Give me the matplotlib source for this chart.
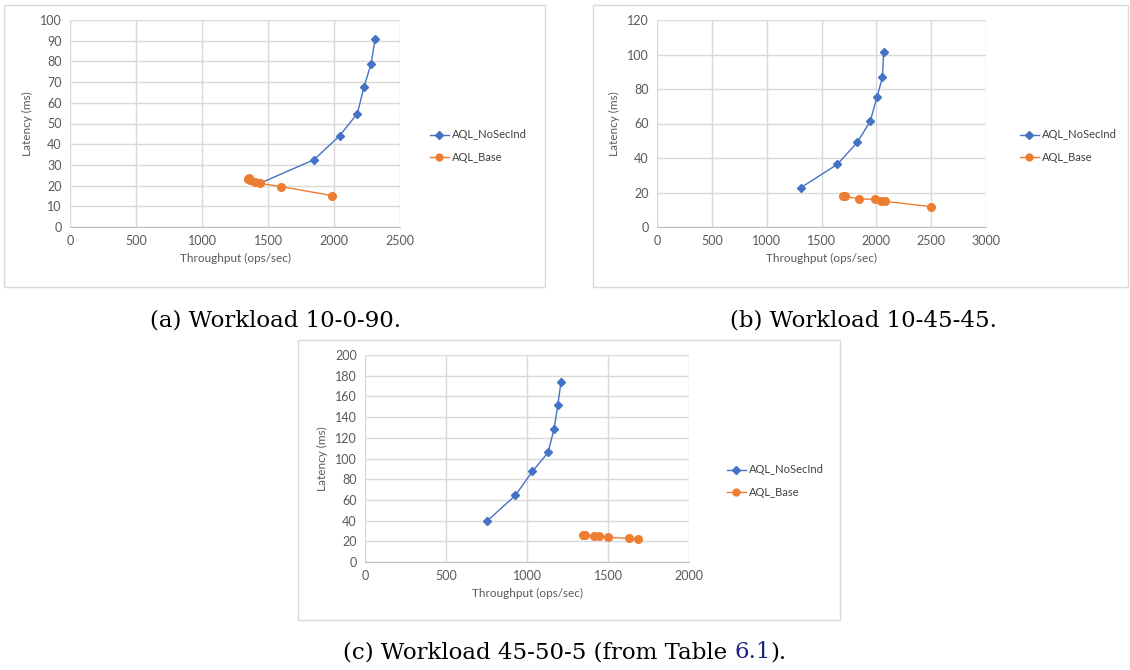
import matplotlib
matplotlib.use("Agg")
import matplotlib.pyplot as plt
from matplotlib.patches import Rectangle

# ---------------- data ----------------
series_names = ["AQL_NoSecInd", "AQL_Base"]

a_nosec_x = [2311, 2281, 2226, 2177, 2043, 1848, 1438]
a_nosec_y = [90.7, 78.9, 67.4, 54.8, 44.1, 32.5, 21.1]
a_base_x = [1349, 1356, 1362, 1402, 1437, 1599, 1982]
a_base_y = [23.0, 23.7, 22.5, 21.8, 21.1, 19.5, 15.2]

b_nosec_x = [2066, 2056, 2005, 1945, 1826, 1644, 1311]
b_nosec_y = [101.3, 86.8, 75.2, 61.4, 49.0, 36.3, 22.8]
b_base_x = [1692, 1715, 1839, 1986, 2047, 2079, 2495]
b_base_y = [17.9, 17.7, 16.4, 16.0, 15.0, 14.9, 11.8]

c_nosec_x = [1210, 1190, 1167, 1130, 1033, 928, 756]
c_nosec_y = [174.0, 151.4, 128.6, 105.8, 87.5, 64.3, 39.9]
c_base_x = [1348, 1358, 1414, 1442, 1501, 1628, 1688]
c_base_y = [26.0, 26.0, 25.1, 24.8, 23.8, 22.8, 22.5]

x_label = "Throughput (ops/sec)"
y_label = "Latency (ms)"

captions = ["(a) Workload 10-0-90.", "(b) Workload 10-45-45."]

# ---------------- style ----------------
W, H = 1130, 670
BLUE = "#4472C4"
ORANGE = "#ED7D31"
GRID = "#d9d9d9"
TXT = "#595959"
FONT = ["Lato", "DejaVu Sans"]
SERIF = ["DejaVu Serif"]

plt.rcParams["font.family"] = FONT

fig = plt.figure(figsize=(W / 100, H / 100), dpi=100)


def rect(x0, y0, x1, y1):
    return [x0 / W, 1 - y1 / H, (x1 - x0) / W, (y1 - y0) / H]


def box(x0, y0, x1, y1):
    fig.patches.append(Rectangle((x0 / W, 1 - y1 / H), (x1 - x0) / W, (y1 - y0) / H,
                                 transform=fig.transFigure, fill=False,
                                 edgecolor=GRID, linewidth=1.0))


def panel(area, xs1, ys1, xs2, ys2, xmax, xstep, ymax, ystep, leg_xy):
    ax = fig.add_axes(rect(*area))
    l1, = ax.plot(xs1, ys1, color=BLUE, marker="D", markersize=4, linewidth=1.0,
                  label=series_names[0])
    l2, = ax.plot(xs2, ys2, color=ORANGE, marker="o", markersize=5.5, linewidth=1.0,
                  label=series_names[1])
    ax.set_xlim(0, xmax)
    ax.set_ylim(0, ymax)
    ax.set_xticks(range(0, xmax + 1, xstep))
    ax.set_yticks(range(0, ymax + 1, ystep))
    ax.grid(True, color=GRID, linewidth=1.0)
    ax.set_axisbelow(True)
    for s in ["top", "right"]:
        ax.spines[s].set_visible(False)
    ax.spines["left"].set_visible(False)
    ax.spines["bottom"].set_color("#bfbfbf")
    ax.tick_params(length=0, labelsize=9, colors=TXT, pad=6)
    ax.set_xlabel(x_label, fontsize=8.5, color=TXT, labelpad=4)
    ax.set_ylabel(y_label, fontsize=8.5, color=TXT, labelpad=5)
    fig.legend(handles=[l1, l2], loc="center left",
               bbox_to_anchor=(leg_xy[0] / W, 1 - leg_xy[1] / H),
               frameon=False, fontsize=8, labelcolor="#404040",
               handlelength=1.7, handletextpad=0.25, labelspacing=1.0,
               borderaxespad=0, borderpad=0, markerscale=0.9)
    return ax


# panel boxes
box(4, 5, 545, 287)
box(593, 5, 1128, 287)
box(298, 340, 840, 620)

panel((70, 20, 400, 227), a_nosec_x, a_nosec_y, a_base_x, a_base_y,
      2500, 500, 100, 10, (430, 146))
panel((657, 20, 986, 227), b_nosec_x, b_nosec_y, b_base_x, b_base_y,
      3000, 500, 120, 20, (1020, 146))
panel((365, 355, 689, 562), c_nosec_x, c_nosec_y, c_base_x, c_base_y,
      2000, 500, 200, 20, (727, 481))

# captions
CAP = 16.5
fig.text(275 / W, 1 - 320 / H, captions[0], ha="center", va="center",
         fontsize=CAP, family=SERIF, color="black")
fig.text(863 / W, 1 - 320 / H, captions[1], ha="center", va="center",
         fontsize=CAP, family=SERIF, color="black")
t1 = fig.text(0, 1 - 652 / H, "(c) Workload 45-50-5 (from Table ", ha="left", va="center",
              fontsize=CAP, family=SERIF, color="black")
t2 = fig.text(0, 1 - 652 / H, "6.1", ha="left", va="center",
              fontsize=CAP, family=SERIF, color="#1a237e")
t3 = fig.text(0, 1 - 652 / H, ").", ha="left", va="center",
              fontsize=CAP, family=SERIF, color="black")
fig.canvas.draw()
r = fig.canvas.get_renderer()
w1 = t1.get_window_extent(r).width
w2 = t2.get_window_extent(r).width
w3 = t3.get_window_extent(r).width
x0 = 565 - (w1 + w2 + w3) / 2
t1.set_x(x0 / W)
t2.set_x((x0 + w1) / W)
t3.set_x((x0 + w1 + w2) / W)

fig.savefig("out.png", dpi=100)
